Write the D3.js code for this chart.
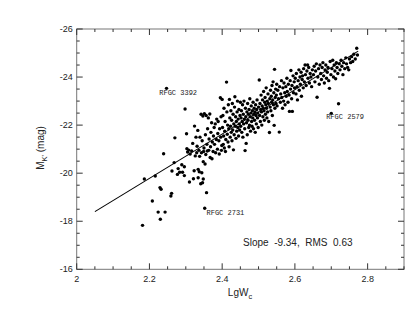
<!DOCTYPE html>
<meta charset="utf-8">
<head>
<title>Tully-Fisher K band</title>
<script src="https://cdnjs.cloudflare.com/ajax/libs/d3/7.8.5/d3.min.js" charset="utf-8"></script>
<style type="text/css">
body {margin: 0; background: #fff;}
text {font-family: "Liberation Sans", Arial, sans-serif; fill: #222;}
.lbl {font-family: "Liberation Mono", monospace; font-size: 7px;}
</style>
</head>
<body>
<script>
// Parameters
var width  = 416,
    height = 322,
    margin = {left: 76.7, right: 12, top: 29, bottom: 52.7};

// Data: [LgWc, MK']
var galaxies = [
  [2.181,-17.83],[2.186,-19.76],[2.208,-18.84],[2.216,-19.88],[2.224,-18.38],[2.230,-18.08],[2.229,-19.40],[2.232,-19.33],
  [2.243,-18.38],[2.239,-20.81],[2.247,-23.53],[2.259,-19.05],[2.261,-19.16],[2.262,-20.09],[2.268,-20.44],[2.270,-21.47],
  [2.277,-19.95],[2.279,-20.19],[2.283,-20.04],[2.289,-20.35],[2.291,-20.04],[2.296,-20.27],[2.296,-19.90],[2.298,-22.67],
  [2.302,-21.64],[2.303,-21.02],[2.305,-20.88],[2.308,-20.96],[2.310,-19.63],[2.312,-20.80],[2.316,-20.93],[2.319,-21.24],
  [2.321,-19.77],[2.323,-20.10],[2.324,-21.96],[2.326,-20.72],[2.328,-21.50],[2.330,-20.85],[2.331,-21.12],[2.333,-21.78],
  [2.334,-20.16],[2.334,-19.81],[2.336,-20.95],[2.337,-20.06],[2.338,-20.70],[2.339,-21.50],
  [2.341,-19.56],[2.342,-22.45],[2.343,-20.85],[2.344,-20.02],[2.345,-21.35],[2.346,-19.60],[2.347,-22.38],[2.348,-19.76],
  [2.348,-20.48],[2.349,-20.90],[2.350,-21.05],[2.351,-22.48],[2.352,-18.54],[2.353,-20.38],[2.354,-21.60],[2.355,-20.78],
  [2.356,-22.40],[2.357,-19.19],[2.358,-21.20],[2.359,-20.92],[2.360,-21.85],[2.362,-22.30],[2.363,-20.95],[2.364,-21.42],
  [2.366,-22.46],[2.367,-20.65],[2.368,-21.10],[2.369,-21.70],[2.371,-22.10],[2.372,-20.60],[2.373,-21.30],[2.375,-20.90],
  [2.376,-21.55],[2.378,-21.90],[2.379,-21.20],[2.381,-22.05],[2.382,-20.85],[2.384,-21.40],[2.385,-22.25],[2.387,-21.00],
  [2.388,-21.65],[2.389,-22.15],[2.391,-21.35],[2.392,-20.80],[2.393,-21.85],[2.395,-23.14],[2.396,-21.50],[2.397,-22.35],
  [2.398,-20.95],[2.399,-21.15],
  [2.400,-23.07],[2.401,-21.90],[2.402,-22.40],[2.403,-21.20],[2.404,-21.55],[2.405,-22.70],[2.406,-21.05],[2.407,-21.75],
  [2.408,-22.15],[2.409,-20.90],[2.410,-21.40],[2.412,-23.79],[2.413,-22.55],[2.414,-21.62],[2.415,-22.00],[2.416,-21.30],
  [2.417,-22.85],[2.418,-21.85],[2.419,-21.10],[2.420,-23.07],[2.421,-22.30],[2.422,-21.50],[2.423,-21.95],[2.424,-22.60],
  [2.425,-21.70],[2.426,-22.20],[2.427,-21.35],[2.428,-22.90],[2.429,-21.80],[2.430,-22.45],[2.431,-20.97],[2.432,-22.05],
  [2.433,-21.60],[2.434,-22.75],[2.435,-23.18],[2.436,-21.95],[2.437,-22.35],[2.438,-21.45],[2.439,-22.15],[2.440,-21.75],
  [2.441,-22.55],[2.442,-23.00],[2.443,-21.90],[2.444,-22.25],[2.445,-21.55],[2.446,-22.65],[2.447,-22.05],[2.448,-21.80],
  [2.449,-22.40],[2.450,-22.95],
  [2.451,-21.95],[2.452,-22.30],[2.453,-22.60],[2.454,-21.70],[2.455,-22.15],[2.456,-22.85],[2.457,-21.50],[2.458,-22.45],
  [2.459,-22.05],[2.460,-23.00],[2.461,-22.25],[2.462,-21.85],[2.463,-20.94],[2.464,-22.70],[2.465,-22.35],[2.466,-21.24],
  [2.467,-22.10],[2.468,-22.55],[2.469,-21.60],[2.470,-22.90],[2.471,-22.20],[2.472,-22.45],[2.473,-21.90],[2.474,-22.65],
  [2.475,-22.00],[2.476,-23.10],[2.477,-22.35],[2.478,-21.75],[2.479,-22.50],[2.480,-22.80],[2.481,-22.15],[2.482,-21.95],
  [2.483,-22.60],[2.484,-22.30],[2.485,-22.95],[2.486,-21.85],[2.487,-22.45],[2.488,-22.70],[2.489,-22.20],[2.490,-22.55],
  [2.491,-21.70],[2.492,-22.85],[2.493,-22.40],[2.494,-22.05],[2.495,-22.65],[2.496,-23.05],[2.497,-22.30],[2.498,-22.50],
  [2.499,-21.90],[2.500,-22.75],
  [2.502,-23.88],[2.503,-22.40],[2.504,-22.90],[2.505,-22.15],[2.506,-22.65],[2.507,-23.25],[2.508,-22.55],[2.509,-22.00],
  [2.510,-22.80],[2.511,-23.05],[2.512,-22.35],[2.513,-22.70],[2.514,-23.40],[2.515,-22.60],[2.516,-22.20],[2.517,-22.95],
  [2.518,-23.15],[2.519,-22.45],[2.520,-22.85],[2.521,-23.55],[2.522,-22.70],[2.523,-22.30],[2.524,-23.00],[2.525,-22.55],
  [2.526,-23.30],[2.527,-22.90],[2.528,-22.15],[2.530,-21.69],[2.531,-23.10],[2.532,-22.75],[2.533,-23.45],[2.534,-22.60],
  [2.535,-23.20],[2.536,-22.95],[2.537,-23.65],[2.538,-22.40],[2.539,-23.05],[2.540,-23.80],[2.541,-22.85],[2.542,-23.35],
  [2.543,-21.99],[2.544,-24.32],[2.545,-22.70],[2.546,-23.15],[2.547,-23.50],[2.548,-22.90],[2.549,-23.25],[2.550,-23.70],
  [2.551,-22.80],[2.553,-23.45],[2.555,-23.10],[2.557,-21.71],[2.558,-23.60],[2.560,-22.95],[2.561,-23.30],[2.563,-23.85],
  [2.564,-23.15],[2.566,-22.70],[2.567,-23.55],[2.569,-23.00],[2.570,-23.75],[2.572,-23.35],[2.573,-22.85],[2.575,-23.60],
  [2.576,-23.20],[2.578,-23.95],[2.579,-23.40],[2.581,-22.95],[2.582,-23.70],[2.584,-23.25],[2.585,-22.57],[2.587,-23.85],
  [2.588,-23.50],[2.589,-24.27],[2.591,-23.10],[2.592,-23.65],[2.593,-22.57],[2.595,-24.05],[2.596,-23.35],[2.598,-23.80],
  [2.599,-23.55],
  [2.601,-23.95],[2.603,-23.30],[2.604,-24.15],[2.606,-23.60],[2.607,-23.05],[2.609,-23.85],[2.611,-24.30],[2.612,-23.45],
  [2.614,-24.00],[2.615,-23.70],[2.617,-24.20],[2.618,-23.20],[2.620,-23.90],[2.621,-24.05],[2.623,-23.55],[2.624,-24.35],
  [2.626,-23.80],[2.628,-24.50],[2.629,-24.10],[2.631,-23.65],[2.633,-24.25],[2.635,-24.50],[2.636,-23.95],[2.638,-24.40],
  [2.640,-23.75],[2.642,-24.15],[2.644,-24.00],[2.646,-23.60],[2.648,-24.30],
  [2.651,-24.10],[2.653,-24.45],[2.655,-23.80],[2.657,-24.25],[2.659,-24.55],[2.661,-23.16],[2.663,-24.00],[2.665,-24.35],
  [2.667,-23.70],[2.669,-24.50],[2.671,-24.15],[2.673,-23.90],[2.675,-24.40],[2.677,-24.60],[2.679,-24.05],[2.681,-23.75],
  [2.683,-24.30],[2.685,-24.50],[2.687,-23.95],[2.689,-24.20],[2.691,-24.40],[2.693,-23.85],[2.695,-23.53],[2.697,-24.65],
  [2.699,-24.10],[2.700,-22.49],
  [2.702,-24.35],[2.704,-24.70],[2.706,-24.00],[2.708,-24.50],[2.710,-24.25],[2.712,-23.93],[2.714,-24.60],[2.716,-24.40],
  [2.718,-24.15],[2.720,-22.89],[2.722,-24.55],[2.724,-24.30],[2.727,-24.70],[2.729,-24.45],[2.732,-24.10],[2.734,-24.60],
  [2.737,-24.35],[2.740,-24.80],[2.742,-24.55],[2.745,-24.40],[2.748,-24.30],[2.750,-24.75],[2.753,-24.60],[2.756,-24.85],
  [2.759,-24.65],[2.762,-24.95],[2.766,-24.75],[2.770,-25.20],[2.772,-24.92]
];

// regression line end points
var fitLine = [[2.05, -18.40], [2.774, -25.08]];

// labelled galaxies [text, LgWc, MK']
var labels = [
  ["RFGC 3392", 2.227, -23.25],
  ["RFGC 2579", 2.686, -22.25],
  ["RFGC 2731", 2.357, -18.24]
];

var xTicks = [2, 2.2, 2.4, 2.6, 2.8],
    yTicks = [-26, -24, -22, -20, -18, -16];

var svg = d3.select("body").append("svg")
  .attr("width", width)
  .attr("height", height);

var x = d3.scaleLinear().domain([2, 2.9]).range([margin.left, width - margin.right]);
var y = d3.scaleLinear().domain([-16, -26]).range([height - margin.bottom, margin.top]);

var x0 = x.range()[0], x1 = x.range()[1],
    y0 = y.range()[0], y1 = y.range()[1];

// frame
svg.append("rect")
  .attr("x", x0).attr("y", y1)
  .attr("width", x1 - x0).attr("height", y0 - y1)
  .style("fill", "none").style("stroke", "#777").style("stroke-width", 1);

// ticks on all four sides, pointing inward
var g = svg.append("g").style("stroke", "#333").style("stroke-width", 1);
d3.range(2, 2.9001, 0.05).forEach(function(v) {
  var len = Math.abs(v * 5 - Math.round(v * 5)) < 1e-6 ? 6 : 3;
  g.append("line").attr("x1", x(v)).attr("x2", x(v)).attr("y1", y0).attr("y2", y0 - len);
  g.append("line").attr("x1", x(v)).attr("x2", x(v)).attr("y1", y1).attr("y2", y1 + len);
});
d3.range(-26, -15.999, 0.5).forEach(function(v) {
  var len = Math.abs(v / 2 - Math.round(v / 2)) < 1e-6 ? 6 : 3;
  g.append("line").attr("y1", y(v)).attr("y2", y(v)).attr("x1", x0).attr("x2", x0 + len);
  g.append("line").attr("y1", y(v)).attr("y2", y(v)).attr("x1", x1).attr("x2", x1 - len);
});

svg.selectAll(".xt").data(xTicks).enter().append("text")
  .attr("x", function(d) { return x(d); })
  .attr("y", y0 + 13)
  .attr("text-anchor", "middle")
  .style("font-size", "9px")
  .text(function(d) { return d; });

svg.selectAll(".yt").data(yTicks).enter().append("text")
  .attr("x", x0 - 4)
  .attr("y", function(d) { return y(d) + 3; })
  .attr("text-anchor", "end")
  .style("font-size", "9px")
  .text(function(d) { return "-" + Math.abs(d); });

// axis titles
var xt = svg.append("text").attr("x", 240).attr("y", 296).attr("text-anchor", "middle").style("font-size", "10px");
xt.append("tspan").text("LgW");
xt.append("tspan").attr("dy", 2.5).style("font-size", "7.5px").text("c");

var yt = svg.append("text")
  .attr("transform", "translate(44,148) rotate(-90)")
  .attr("text-anchor", "middle").style("font-size", "10px");
yt.append("tspan").text("M");
yt.append("tspan").attr("dy", 2.5).style("font-size", "7.5px").text("K'");
yt.append("tspan").attr("dy", -2.5).text(" (mag)");

// fit line
svg.append("path")
  .datum(fitLine)
  .attr("d", d3.line().x(function(d) { return x(d[0]); }).y(function(d) { return y(d[1]); }))
  .style("fill", "none").style("stroke", "#000").style("stroke-width", 1.1);

// points
svg.selectAll("circle").data(galaxies).enter().append("circle")
  .attr("cx", function(d) { return x(d[0]); })
  .attr("cy", function(d) { return y(d[1]); })
  .attr("r", 1.7)
  .style("fill", "#000");

svg.selectAll(".lbl").data(labels).enter().append("text")
  .attr("class", "lbl")
  .attr("x", function(d) { return x(d[1]); })
  .attr("y", function(d) { return y(d[2]); })
  .text(function(d) { return d[0]; });

svg.append("text")
  .attr("x", 243).attr("y", 246)
  .style("font-size", "10px")
  .style("white-space", "pre")
  .text("Slope  -9.34,  RMS  0.63");
</script>
</body>
